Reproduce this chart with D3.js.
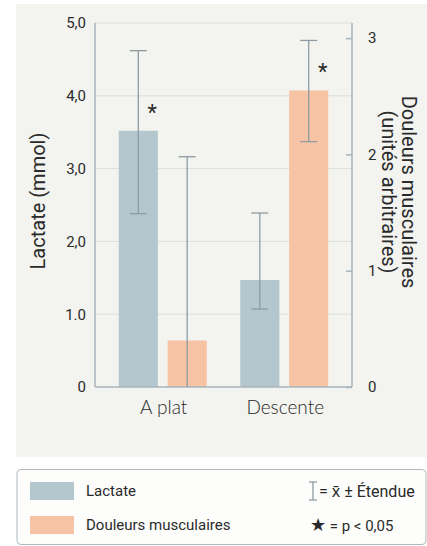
<!DOCTYPE html>
<html>
<head>
<meta charset="utf-8">
<script src="https://cdn.jsdelivr.net/npm/d3@7"></script>
<style>
  html, body { margin: 0; padding: 0; background: #ffffff; }
  svg { display: block; }
</style>
</head>
<body>
<svg id="chart" width="427" height="546"></svg>
<script>
// Data
const categories = ["A plat", "Descente"];
const series = ["Lactate", "Douleurs musculaires"];
const lactateMean = [3.52, 1.47];
const lactateLow = [2.38, 1.07];
const lactateHigh = [4.62, 2.39];
const douleurMean = [0.40, 2.55];
const douleurLow = [0.0, 2.11];
const douleurHigh = [1.98, 2.98];
const lactateSignif = [true, false];
const douleurSignif = [false, true];
const leftTicks = [0, 1, 2, 3, 4, 5];
const leftTickLabels = ["0", "1.0", "2,0", "3,0", "4,0", "5,0"];
const rightTicks = [0, 1, 2, 3];

const colors = { "Lactate": "#b4c7cf", "Douleurs musculaires": "#f6c3a5" };
const axisColor = "#a7b5bc";
const errColor = "#8d9ca4";
const textColor = "#2a2a2a";
const font = "Roboto, 'Noto Sans', sans-serif";

const svg = d3.select("#chart");

// Panel background
svg.append("rect").attr("x", 16).attr("y", 4).attr("width", 411).attr("height", 453)
  .attr("fill", "#f3f3ef");

const plot = { left: 95, right: 352, top: 23, bottom: 387 };

const x0 = d3.scaleBand().domain(categories).range([plot.left, plot.right])
  .paddingInner(0.115).paddingOuter(0.115);
const x1 = d3.scaleBand().domain(series).range([0, x0.bandwidth()])
  .paddingInner(0.2).paddingOuter(0.2);
const yL = d3.scaleLinear().domain([0, 5]).range([plot.bottom, plot.top]);
const yR = d3.scaleLinear().domain([0, 3.13]).range([plot.bottom, plot.top]);

// Grid lines
svg.append("g").selectAll("line").data(leftTicks.filter(d => d > 0)).join("line")
  .attr("x1", plot.left).attr("x2", plot.right)
  .attr("y1", d => yL(d)).attr("y2", d => yL(d))
  .attr("stroke", "#dcdfde").attr("stroke-width", 1);

// Rows of bar data
const rows = [];
categories.forEach((c, i) => {
  rows.push({ cat: c, s: "Lactate", v: lactateMean[i], lo: lactateLow[i], hi: lactateHigh[i], sig: lactateSignif[i], y: yL });
  rows.push({ cat: c, s: "Douleurs musculaires", v: douleurMean[i], lo: douleurLow[i], hi: douleurHigh[i], sig: douleurSignif[i], y: yR });
});

// Bars
svg.append("g").selectAll("rect").data(rows).join("rect")
  .attr("x", d => x0(d.cat) + x1(d.s))
  .attr("width", x1.bandwidth())
  .attr("y", d => d.y(d.v))
  .attr("height", d => d.y(0) - d.y(d.v))
  .attr("fill", d => colors[d.s]);

// Axes lines
const axes = svg.append("g").attr("stroke", axisColor).attr("stroke-width", 1.5).attr("fill", "none");
axes.append("line").attr("x1", plot.left).attr("x2", plot.left).attr("y1", plot.top).attr("y2", plot.bottom);
axes.append("line").attr("x1", plot.right).attr("x2", plot.right).attr("y1", plot.top).attr("y2", plot.bottom);
axes.append("line").attr("x1", plot.left).attr("x2", plot.right).attr("y1", plot.bottom).attr("y2", plot.bottom);

// Error bars
const cap = 8.5;
const eb = svg.append("g").attr("stroke", errColor).attr("stroke-width", 1.3);
rows.forEach(d => {
  const cx = x0(d.cat) + x1(d.s) + x1.bandwidth() / 2;
  eb.append("line").attr("x1", cx).attr("x2", cx).attr("y1", d.y(d.hi)).attr("y2", d.y(d.lo));
  eb.append("line").attr("x1", cx - cap).attr("x2", cx + cap).attr("y1", d.y(d.hi)).attr("y2", d.y(d.hi));
  if (d.lo > 0) {
    eb.append("line").attr("x1", cx - cap).attr("x2", cx + cap).attr("y1", d.y(d.lo)).attr("y2", d.y(d.lo));
  }
});

// Significance marks
svg.append("g").selectAll("text").data(rows.filter(d => d.sig)).join("text")
  .attr("x", d => x0(d.cat) + x1(d.s) + x1.bandwidth() / 2 + 14)
  .attr("y", d => d.y(d.v) - 11)
  .attr("text-anchor", "middle")
  .attr("font-family", font).attr("font-size", 22)
  .attr("fill", textColor).text("*");

// Left axis labels
const leftAxis = d3.axisLeft(yL).tickValues(leftTicks)
  .tickFormat((d, i) => leftTickLabels[i]).tickSize(0).tickPadding(9);
const gL = svg.append("g").attr("transform", `translate(${plot.left},0)`).call(leftAxis);
gL.select(".domain").remove();
gL.selectAll("text").attr("font-family", font).attr("font-size", 15).attr("fill", textColor);

// Right axis ticks and labels (ticks pointing inward)
const rightAxis = d3.axisRight(yR).tickValues(rightTicks).tickFormat(d3.format("d"))
  .tickSizeInner(-6).tickSizeOuter(0).tickPadding(16);
const gR = svg.append("g").attr("transform", `translate(${plot.right},0)`).call(rightAxis);
gR.select(".domain").remove();
gR.selectAll("line").attr("stroke", axisColor).attr("stroke-width", 1.5);
gR.selectAll("text").attr("font-family", font).attr("font-size", 15).attr("fill", textColor);

// Category labels
svg.append("g").selectAll("text").data(categories).join("text")
  .attr("x", d => x0(d) + x0.bandwidth() / 2 + 1)
  .attr("y", 414)
  .attr("text-anchor", "middle")
  .attr("font-family", "Lato, 'Open Sans', sans-serif").attr("font-size", 19)
  .attr("font-weight", 300)
  .attr("fill", textColor).text(d => d);

// Axis titles
svg.append("text")
  .attr("transform", "translate(45,201) rotate(-90)")
  .attr("text-anchor", "middle")
  .attr("font-family", font).attr("font-size", 20).attr("fill", textColor)
  .text("Lactate (mmol)");

const rt = svg.append("text")
  .attr("transform", "translate(402,192) rotate(90)")
  .attr("text-anchor", "middle")
  .attr("font-family", font).attr("font-size", 20).attr("fill", textColor);
rt.append("tspan").attr("x", 0).attr("dy", 0).text("Douleurs musculaires");
rt.append("tspan").attr("x", 0).attr("dy", 20).text("(unités arbitraires)");

// Legend
const lg = svg.append("g");
lg.append("rect").attr("x", 17).attr("y", 469.5).attr("width", 409).attr("height", 75)
  .attr("rx", 4).attr("fill", "#fdfdfb").attr("stroke", "#aeb9bf").attr("stroke-width", 1);
series.forEach((s, i) => {
  const yy = 482 + i * 34;
  lg.append("rect").attr("x", 30).attr("y", yy).attr("width", 44).attr("height", 18)
    .attr("fill", colors[s]);
  lg.append("text").attr("x", 86).attr("y", yy + 14)
    .attr("font-family", font).attr("font-size", 15).attr("fill", textColor).text(s);
});
// Error bar key
const ex = 313;
lg.append("line").attr("x1", ex).attr("x2", ex).attr("y1", 482).attr("y2", 500).attr("stroke", errColor).attr("stroke-width", 1.3);
lg.append("line").attr("x1", ex - 4).attr("x2", ex + 4).attr("y1", 482).attr("y2", 482).attr("stroke", errColor).attr("stroke-width", 1.3);
lg.append("line").attr("x1", ex - 4).attr("x2", ex + 4).attr("y1", 500).attr("y2", 500).attr("stroke", errColor).attr("stroke-width", 1.3);
lg.append("text").attr("x", 319).attr("y", 497)
  .attr("font-family", font).attr("font-size", 16).attr("fill", textColor)
  .text("= x\u0304 ± Étendue");
const st = lg.append("text").attr("x", 310).attr("y", 531)
  .attr("font-family", font).attr("font-size", 15).attr("fill", textColor);
st.append("tspan").attr("font-size", 18).text("★");
st.append("tspan").text(" = p < 0,05");
</script>
</body>
</html>
